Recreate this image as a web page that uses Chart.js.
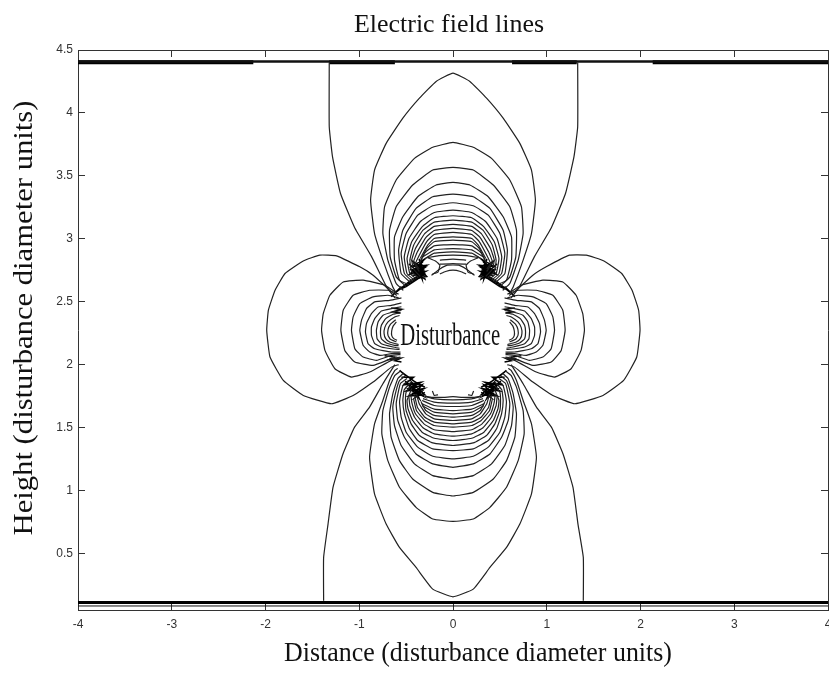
<!DOCTYPE html>
<html><head><meta charset="utf-8">
<style>html,body{margin:0;padding:0;background:#fff}canvas{display:block}</style>
<script src="https://cdn.jsdelivr.net/npm/chart.js@4"></script>
</head><body><canvas id="c" width="829" height="677"></canvas>
<script>
const chartTitle = "Electric field lines";
const xAxisTitle = "Distance (disturbance diameter units)";
const yAxisTitle = "Height (disturbance diameter units)";
const centerLabel = "Disturbance";
const xTicks = [-4,-3,-2,-1,0,1,2,3,4];
const yTicks = [0.5,1,1.5,2,2.5,3,3.5,4,4.5];

const plateThin = [
 [[-4,4.408],[4,4.408]],
 [[-4,0.082],[4,0.082]]
];
const plateThick = [
 [[-4,4.402],[-2.13,4.402]],
 [[-1.32,4.402],[-.62,4.402]],
 [[.63,4.402],[1.32,4.402]],
 [[2.13,4.402],[4,4.402]],
 [[-4,0.11],[4,0.11]]
];

const outerCurves = [
 [[-1.32,4.40],[-1.32,3.89],[-1.285,3.65],[-1.2,3.36],[-1.05,3.09],[-.87,2.86],[-.71,2.62],[-.62,2.53]],
 [[1.33,4.40],[1.33,3.89],[1.29,3.65],[1.2,3.36],[1.05,3.09],[.87,2.86],[.71,2.62],[.62,2.53]],
 [[-1.38,.123],[-1.38,.468],[-1.333,.733],[-1.28,1.025],[-1.174,1.29],[-1.05,1.503],[-.89,1.662],[-.748,1.848],[-.62,2.0]],
 [[1.39,.123],[1.39,.468],[1.333,.733],[1.28,1.025],[1.174,1.29],[1.05,1.503],[.89,1.662],[.748,1.848],[.62,2.0]]
];

const topLobes = [
 [[-.6,2.56],[-.642,2.617],[-.748,2.83],[-.837,3.042],[-.879,3.307],[-.837,3.546],[-.713,3.758],[-.535,3.958],[-.358,4.117],[-.18,4.25],[0,4.316],[.18,4.25],[.358,4.117],[.535,3.958],[.713,3.758],[.837,3.546],[.879,3.307],[.837,3.042],[.748,2.83],[.642,2.617],[.6,2.56]],
 [[-.53,2.59],[-.606,2.644],[-.695,2.83],[-.748,3.042],[-.73,3.254],[-.606,3.467],[-.411,3.639],[-.216,3.727],[0,3.766],[.216,3.727],[.411,3.639],[.606,3.467],[.73,3.254],[.748,3.042],[.695,2.83],[.606,2.644],[.53,2.59]],
 [[-.5,2.62],[-.606,2.697],[-.67,2.856],[-.677,3.068],[-.606,3.254],[-.43,3.427],[-.216,3.546],[0,3.567],[.216,3.546],[.43,3.427],[.606,3.254],[.677,3.068],[.67,2.856],[.606,2.697],[.5,2.62]],
 [[-.47,2.635],[-.57,2.67],[-.624,2.83],[-.624,3.015],[-.535,3.175],[-.376,3.334],[-.18,3.427],[0,3.448],[.18,3.427],[.376,3.334],[.535,3.175],[.624,3.015],[.624,2.83],[.57,2.67],[.47,2.635]],
 [[-.45,2.65],[-.553,2.723],[-.58,2.909],[-.535,3.068],[-.394,3.241],[-.216,3.334],[0,3.355],[.216,3.334],[.394,3.241],[.535,3.068],[.58,2.909],[.553,2.723],[.45,2.65]],
 [[-.43,2.66],[-.518,2.723],[-.553,2.883],[-.5,3.042],[-.376,3.188],[-.216,3.262],[0,3.286],[.216,3.262],[.376,3.188],[.5,3.042],[.553,2.883],[.518,2.723],[.43,2.66]],
 [[-.41,2.67],[-.49,2.723],[-.52,2.856],[-.47,3.002],[-.35,3.135],[-.2,3.209],[0,3.228],[.2,3.209],[.35,3.135],[.47,3.002],[.52,2.856],[.49,2.723],[.41,2.67]],
 [[-.39,2.68],[-.46,2.723],[-.49,2.843],[-.44,2.976],[-.33,3.095],[-.2,3.167],[0,3.183],[.2,3.167],[.33,3.095],[.44,2.976],[.49,2.843],[.46,2.723],[.39,2.68]],
 [[-.37,2.69],[-.44,2.737],[-.46,2.83],[-.42,2.949],[-.32,3.068],[-.2,3.132],[0,3.148],[.2,3.132],[.32,3.068],[.42,2.949],[.46,2.83],[.44,2.737],[.37,2.69]],
 [[-.35,2.7],[-.42,2.76],[-.44,2.83],[-.4,2.923],[-.3,3.042],[-.2,3.098],[0,3.114],[.2,3.098],[.3,3.042],[.4,2.923],[.44,2.83],[.42,2.76],[.35,2.7]],
 [[-.36,2.74],[-.42,2.816],[-.38,2.896],[-.29,3.01],[-.2,3.066],[0,3.082],[.2,3.066],[.29,3.01],[.38,2.896],[.42,2.816],[.36,2.74]],
 [[-.36,2.76],[-.4,2.803],[-.36,2.869],[-.28,2.978],[-.2,3.034],[0,3.05],[.2,3.034],[.28,2.978],[.36,2.869],[.4,2.803],[.36,2.76]],
 [[-.35,2.843],[-.27,2.949],[-.2,3.002],[0,3.015],[.2,3.002],[.27,2.949],[.35,2.843]],
 [[-.35,2.816],[-.28,2.923],[-.2,2.976],[0,2.989],[.2,2.976],[.28,2.923],[.35,2.816]],
 [[-.36,2.803],[-.3,2.888],[-.2,2.944],[0,2.954],[.2,2.944],[.3,2.888],[.36,2.803]],
 [[-.32,2.856],[-.2,2.912],[0,2.922],[.2,2.912],[.32,2.856]],
 [[-.3,2.84],[-.2,2.886],[0,2.896],[.2,2.886],[.3,2.84]],
 [[-.27,2.85],[-.15,2.866],[0,2.87],[.15,2.866],[.27,2.85]],
 [[-.14,2.83],[0,2.838],[.14,2.83]],
 [[-.14,2.798],[0,2.803],[.14,2.798]],
 [[-.27,2.85],[-.18,2.82],[-.14,2.79],[-.16,2.735],[-.22,2.72]],
 [[.27,2.85],[.18,2.82],[.14,2.79],[.16,2.735],[.22,2.72]],
 [[-.23,2.71],[-.14,2.76],[-.06,2.79],[.06,2.79],[.14,2.76],[.23,2.71]],
 [[-.14,2.72],[-.08,2.74],[0,2.75],[.08,2.74],[.14,2.72]]
];

const bottomLobes = [
 [[-.59,1.97],[-.62,1.954],[-.677,1.874],[-.748,1.715],[-.837,1.529],[-.89,1.264],[-.837,.972],[-.713,.733],[-.571,.547],[-.394,.388],[-.216,.216],[0,.155],[.216,.216],[.394,.388],[.571,.547],[.713,.733],[.837,.972],[.89,1.264],[.837,1.529],[.748,1.715],[.677,1.874],[.62,1.954],[.59,1.97]],
 [[-.56,1.95],[-.62,1.914],[-.677,1.821],[-.748,1.635],[-.759,1.45],[-.695,1.237],[-.571,1.025],[-.394,.866],[-.216,.773],[0,.754],[.216,.773],[.394,.866],[.571,1.025],[.695,1.237],[.759,1.45],[.748,1.635],[.677,1.821],[.62,1.914],[.56,1.95]],
 [[-.53,1.93],[-.589,1.888],[-.642,1.768],[-.677,1.609],[-.66,1.423],[-.571,1.237],[-.43,1.091],[-.216,.985],[0,.956],[.216,.985],[.43,1.091],[.571,1.237],[.66,1.423],[.677,1.609],[.642,1.768],[.589,1.888],[.53,1.93]],
 [[-.51,1.91],[-.57,1.874],[-.606,1.795],[-.642,1.662],[-.624,1.516],[-.553,1.357],[-.411,1.211],[-.216,1.118],[0,1.091],[.216,1.118],[.411,1.211],[.553,1.357],[.624,1.516],[.642,1.662],[.606,1.795],[.57,1.874],[.51,1.91]],
 [[-.49,1.89],[-.56,1.85],[-.58,1.795],[-.606,1.689],[-.589,1.556],[-.518,1.423],[-.394,1.29],[-.216,1.211],[0,1.184],[.216,1.211],[.394,1.29],[.518,1.423],[.589,1.556],[.606,1.689],[.58,1.795],[.56,1.85],[.49,1.89]],
 [[-.47,1.875],[-.53,1.84],[-.553,1.781],[-.57,1.702],[-.553,1.582],[-.5,1.463],[-.376,1.344],[-.216,1.272],[0,1.251],[.216,1.272],[.376,1.344],[.5,1.463],[.553,1.582],[.57,1.702],[.553,1.781],[.53,1.84],[.47,1.875]],
 [[-.45,1.86],[-.52,1.8],[-.535,1.715],[-.518,1.609],[-.465,1.49],[-.376,1.397],[-.216,1.33],[0,1.317],[.216,1.33],[.376,1.397],[.465,1.49],[.518,1.609],[.535,1.715],[.52,1.8],[.45,1.86]],
 [[-.45,1.83],[-.5,1.78],[-.507,1.715],[-.5,1.635],[-.447,1.529],[-.358,1.437],[-.216,1.378],[0,1.357],[.216,1.378],[.358,1.437],[.447,1.529],[.5,1.635],[.507,1.715],[.5,1.78],[.45,1.83]],
 [[-.44,1.81],[-.49,1.715],[-.48,1.649],[-.43,1.556],[-.33,1.463],[-.2,1.415],[0,1.397],[.2,1.415],[.33,1.463],[.43,1.556],[.48,1.649],[.49,1.715],[.44,1.81]],
 [[-.47,1.742],[-.46,1.675],[-.41,1.582],[-.32,1.498],[-.2,1.45],[0,1.431],[.2,1.45],[.32,1.498],[.41,1.582],[.46,1.675],[.47,1.742]],
 [[-.45,1.768],[-.44,1.702],[-.4,1.609],[-.31,1.529],[-.2,1.482],[0,1.468],[.2,1.482],[.31,1.529],[.4,1.609],[.44,1.702],[.45,1.768]],
 [[-.42,1.728],[-.39,1.635],[-.3,1.556],[-.2,1.516],[0,1.503],[.2,1.516],[.3,1.556],[.39,1.635],[.42,1.728]],
 [[-.41,1.755],[-.38,1.662],[-.3,1.582],[-.2,1.543],[0,1.529],[.2,1.543],[.3,1.582],[.38,1.662],[.41,1.755]],
 [[-.39,1.768],[-.36,1.689],[-.29,1.609],[-.2,1.569],[0,1.556],[.2,1.569],[.29,1.609],[.36,1.689],[.39,1.768]],
 [[-.34,1.702],[-.29,1.635],[-.2,1.596],[0,1.582],[.2,1.596],[.29,1.635],[.34,1.702]],
 [[-.33,1.675],[-.2,1.622],[0,1.609],[.2,1.622],[.33,1.675]],
 [[-.33,1.689],[-.2,1.646],[0,1.635],[.2,1.646],[.33,1.689]],
 [[-.33,1.715],[-.2,1.675],[0,1.667],[.2,1.675],[.33,1.715]],
 [[-.32,1.73],[-.2,1.702],[0,1.694],[.2,1.702],[.32,1.73]],
 [[-.3,1.747],[-.2,1.728],[0,1.72],[.2,1.728],[.3,1.747]],
 [[-.3,1.75],[-.22,1.74],[-.1,1.74],[0,1.745],[.1,1.74],[.22,1.74],[.3,1.75]],
 [[-.22,1.79],[-.2,1.755],[-.16,1.76]],
 [[.22,1.79],[.2,1.755],[.16,1.76]]
];

const leftLobes = [
 [[-.6,2.55],[-.657,2.578],[-.852,2.71],[-.994,2.777],[-1.242,2.864],[-1.42,2.87],[-1.597,2.824],[-1.792,2.724],[-1.898,2.591],[-1.969,2.432],[-1.987,2.272],[-1.952,2.06],[-1.81,1.874],[-1.597,1.755],[-1.296,1.689],[-1.065,1.755],[-.852,1.861],[-.657,1.98],[-.58,2.0]],
 [[-.6,2.57],[-.728,2.631],[-.959,2.671],[-1.171,2.657],[-1.313,2.551],[-1.384,2.405],[-1.402,2.272],[-1.366,2.113],[-1.26,1.967],[-1.083,1.901],[-.888,1.941],[-.657,2.034],[-.56,2.05]],
 [[-.58,2.56],[-.693,2.591],[-.888,2.591],[-1.065,2.551],[-1.171,2.432],[-1.196,2.272],[-1.154,2.113],[-1.047,2.02],[-.852,1.994],[-.657,2.047],[-.56,2.06]],
 [[-.58,2.53],[-.693,2.551],[-.852,2.538],[-.994,2.485],[-1.065,2.379],[-1.083,2.272],[-1.047,2.126],[-.959,2.06],[-.817,2.034],[-.657,2.073],[-.56,2.08]],
 [[-.55,2.53],[-.675,2.511],[-.835,2.498],[-.923,2.445],[-.976,2.352],[-.994,2.272],[-.959,2.153],[-.888,2.1],[-.781,2.073],[-.657,2.087],[-.56,2.09]],
 [[-.55,2.49],[-.657,2.471],[-.799,2.458],[-.87,2.405],[-.923,2.326],[-.934,2.259],[-.906,2.166],[-.835,2.126],[-.657,2.1],[-.56,2.1]],
 [[-.55,2.46],[-.657,2.445],[-.764,2.426],[-.835,2.365],[-.87,2.299],[-.87,2.233],[-.835,2.166],[-.764,2.14],[-.657,2.126],[-.57,2.12]],
 [[-.55,2.43],[-.64,2.418],[-.746,2.392],[-.799,2.339],[-.817,2.272],[-.81,2.206],[-.764,2.166],[-.64,2.14],[-.57,2.13]],
 [[-.56,2.41],[-.64,2.4],[-.718,2.365],[-.764,2.312],[-.774,2.259],[-.764,2.206],[-.71,2.172],[-.622,2.153],[-.58,2.15]],
 [[-.57,2.39],[-.622,2.379],[-.693,2.339],[-.728,2.294],[-.735,2.246],[-.718,2.206],[-.675,2.18],[-.611,2.166],[-.58,2.16]],
 [[-.611,2.357],[-.668,2.32],[-.693,2.278],[-.693,2.233],[-.668,2.201],[-.604,2.18]],
 [[-.604,2.339],[-.64,2.304],[-.654,2.267],[-.654,2.233],[-.632,2.206],[-.597,2.193]]
];

const rightLobes = [
 [[.6,2.55],[.657,2.578],[.852,2.71],[.994,2.777],[1.242,2.87],[1.42,2.87],[1.61,2.824],[1.8,2.724],[1.91,2.591],[1.98,2.432],[1.995,2.272],[1.96,2.06],[1.82,1.874],[1.6,1.755],[1.3,1.689],[1.065,1.755],[.852,1.861],[.657,1.98],[.58,2.0]],
 [[.6,2.57],[.728,2.631],[.959,2.671],[1.171,2.657],[1.313,2.551],[1.384,2.405],[1.402,2.272],[1.366,2.113],[1.26,1.967],[1.083,1.901],[.888,1.941],[.657,2.034],[.56,2.05]],
 [[.58,2.56],[.693,2.591],[.888,2.591],[1.065,2.551],[1.171,2.432],[1.196,2.272],[1.154,2.113],[1.047,2.02],[.852,1.994],[.657,2.047],[.56,2.06]],
 [[.58,2.53],[.693,2.551],[.852,2.538],[.994,2.485],[1.065,2.379],[1.083,2.272],[1.047,2.126],[.959,2.06],[.817,2.034],[.657,2.073],[.56,2.08]],
 [[.55,2.53],[.675,2.511],[.835,2.498],[.923,2.445],[.976,2.352],[.994,2.272],[.959,2.153],[.888,2.1],[.781,2.073],[.657,2.087],[.56,2.09]],
 [[.55,2.49],[.657,2.471],[.799,2.458],[.87,2.405],[.923,2.326],[.934,2.259],[.906,2.166],[.835,2.126],[.657,2.1],[.56,2.1]],
 [[.55,2.46],[.657,2.445],[.764,2.426],[.835,2.365],[.87,2.299],[.87,2.233],[.835,2.166],[.764,2.14],[.657,2.126],[.57,2.12]],
 [[.55,2.43],[.64,2.418],[.746,2.392],[.799,2.339],[.817,2.272],[.81,2.206],[.764,2.166],[.64,2.14],[.57,2.13]],
 [[.56,2.41],[.64,2.4],[.718,2.365],[.764,2.312],[.774,2.259],[.764,2.206],[.71,2.172],[.622,2.153],[.58,2.15]],
 [[.57,2.39],[.622,2.379],[.693,2.339],[.728,2.294],[.735,2.246],[.718,2.206],[.675,2.18],[.611,2.166],[.58,2.16]],
 [[.611,2.357],[.668,2.32],[.693,2.278],[.693,2.233],[.668,2.201],[.604,2.18]],
 [[.604,2.339],[.64,2.304],[.654,2.267],[.654,2.233],[.632,2.206],[.597,2.193]]
];

const tangles = [
 [[-.46,2.72],[-.3,2.84],[-.44,2.78],[-.28,2.79],[-.45,2.72],[-.29,2.74],[-.42,2.68],[-.28,2.7],[-.4,2.8],[-.33,2.68],[-.36,2.84],[-.3,2.68],[-.44,2.75],[-.3,2.77],[-.41,2.71],[-.29,2.72]],
 [[-.47,2.8],[-.38,2.74],[-.46,2.76],[-.34,2.72],[-.43,2.82],[-.34,2.78],[-.42,2.74],[-.32,2.82],[-.38,2.78],[-.31,2.75],[-.39,2.7],[-.33,2.8]],
 [[-.66,2.54],[-.55,2.62],[-.6,2.58],[-.45,2.67],[-.52,2.62],[-.34,2.71],[-.42,2.66],[-.3,2.72],[-.38,2.68],[-.5,2.62],[-.56,2.6],[-.44,2.65],[-.36,2.7]],
 [[.46,2.72],[.3,2.84],[.44,2.78],[.28,2.79],[.45,2.72],[.29,2.74],[.42,2.68],[.28,2.7],[.4,2.8],[.33,2.68],[.36,2.84],[.3,2.68],[.44,2.75],[.3,2.77],[.41,2.71],[.29,2.72]],
 [[.47,2.8],[.38,2.74],[.46,2.76],[.34,2.72],[.43,2.82],[.34,2.78],[.42,2.74],[.32,2.82],[.38,2.78],[.31,2.75],[.39,2.7],[.33,2.8]],
 [[.66,2.54],[.55,2.62],[.6,2.58],[.45,2.67],[.52,2.62],[.34,2.71],[.42,2.66],[.3,2.72],[.38,2.68],[.5,2.62],[.56,2.6],[.44,2.65],[.36,2.7]],
 [[-.55,1.9],[-.42,1.9],[-.52,1.84],[-.34,1.86],[-.5,1.79],[-.31,1.81],[-.47,1.75],[-.3,1.76],[-.44,1.86],[-.36,1.73],[-.51,1.87],[-.32,1.75],[-.46,1.8],[-.33,1.84],[-.42,1.76]],
 [[-.5,1.85],[-.4,1.84],[-.48,1.81],[-.36,1.78],[-.44,1.77],[-.33,1.79],[-.4,1.74],[-.3,1.78]],
 [[-.57,1.954],[-.5,1.91],[-.53,1.93],[-.42,1.87],[-.46,1.89],[-.36,1.84],[-.4,1.86],[-.3,1.82]],
 [[-.73,2.07],[-.62,2.06],[-.68,2.04],[-.56,2.05],[-.62,2.03],[-.55,2.02]],
 [[.55,1.9],[.42,1.9],[.52,1.84],[.34,1.86],[.5,1.79],[.31,1.81],[.47,1.75],[.3,1.76],[.44,1.86],[.36,1.73],[.51,1.87],[.32,1.75],[.46,1.8],[.33,1.84],[.42,1.76]],
 [[.5,1.85],[.4,1.84],[.48,1.81],[.36,1.78],[.44,1.77],[.33,1.79],[.4,1.74],[.3,1.78]],
 [[.57,1.954],[.5,1.91],[.53,1.93],[.42,1.87],[.46,1.89],[.36,1.84],[.4,1.86],[.3,1.82]],
 [[.73,2.07],[.62,2.06],[.68,2.04],[.56,2.05],[.62,2.03],[.55,2.02]],
 [[-.66,2.45],[-.55,2.44],[-.64,2.42],[-.56,2.41]],
 [[.66,2.45],[.55,2.44],[.64,2.42],[.56,2.41]]
];

const toPts = c => c.map(p => ({x:p[0], y:p[1]}));
const line = (c,w,col) => ({data:toPts(c),showLine:true,pointRadius:0,borderWidth:w,borderColor:col,tension:0,fill:false});
const curve = c => Object.assign(line(c,1.2,'#222'),{tension:.12});

const datasets = [
 ...outerCurves.map(curve),
 ...topLobes.map(curve),
 ...bottomLobes.map(curve),
 ...leftLobes.map(curve),
 ...rightLobes.map(curve),
 ...tangles.map(c => line(c,1.5,'#000')),
 ...plateThin.map((c,i) => line(c,i===0?2.5:1,'#111')),
 ...plateThick.map((c,i) => line(c,i===4?3:4,'#000'))
];

const textPlugin = {
 id:'figureText',
 afterDraw(ch){
  const g = ch.ctx, xs = ch.scales.x, ys = ch.scales.y;
  const put = (t,x,y,size,target,rot) => {
   g.save();
   g.font = size+'px "Liberation Serif"';
   g.fillStyle = '#111'; g.textAlign='center'; g.textBaseline='middle';
   g.translate(x,y); if(rot) g.rotate(rot);
   g.scale(target/g.measureText(t).width,1);
   g.fillText(t,0,0);
   g.restore();
  };
  put(chartTitle,449,25,25,190,0);
  put(xAxisTitle,478,654,28,388,0);
  put(yAxisTitle,25,318,27,435,-Math.PI/2);
  put(centerLabel,xs.getPixelForValue(-.03),ys.getPixelForValue(2.22),31,100,0);
 }
};

const tickFont = {family:'"Liberation Sans"',size:12};
const frame = {display:true,color:'#333',width:1};
const grid = {drawOnChartArea:false,drawTicks:true,tickLength:-7,color:'#333',tickWidth:1};
const fix = (prop,v) => s => {s[prop]=v;s.paddingLeft=s.paddingRight=s.paddingTop=s.paddingBottom=0;};
const setX = s => {s.ticks = xTicks.map(v=>({value:v}));};
const setY = s => {s.ticks = yTicks.map(v=>({value:v}));};

new Chart(document.getElementById('c'),{
 type:'scatter',
 data:{datasets},
 plugins:[textPlugin],
 options:{
  responsive:false,animation:false,
  layout:{padding:{top:50,left:0,right:1,bottom:0}},
  plugins:{legend:{display:false},tooltip:{enabled:false},title:{display:false}},
  scales:{
   x:{type:'linear',position:'bottom',min:-4,max:4,afterBuildTicks:setX,afterFit:fix('height',67),border:frame,grid,
      ticks:{font:tickFont,color:'#333',padding:14,autoSkip:false,maxRotation:0,callback:v=>String(v)}},
   y:{type:'linear',position:'left',min:.05,max:4.5,afterBuildTicks:setY,afterFit:fix('width',78),border:frame,grid,
      ticks:{font:tickFont,color:'#333',padding:12,autoSkip:false,callback:v=>String(v)}},
   x2:{type:'linear',position:'top',min:-4,max:4,afterBuildTicks:setX,afterFit:fix('height',0),border:frame,grid,ticks:{display:false}},
   y2:{type:'linear',position:'right',min:.05,max:4.5,afterBuildTicks:setY,afterFit:fix('width',0),border:frame,grid,ticks:{display:false}}
  }
 }
});
</script></body></html>
